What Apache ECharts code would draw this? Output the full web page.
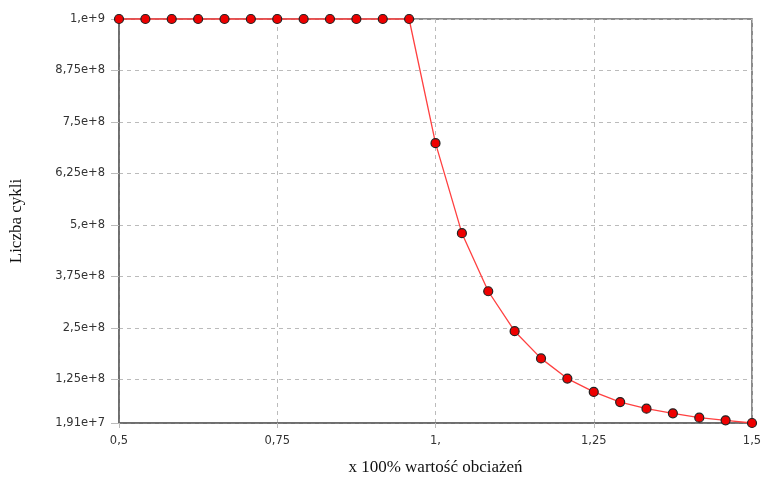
<!DOCTYPE html>
<html><head><meta charset="utf-8">
<script src="https://cdn.jsdelivr.net/npm/echarts@6/dist/echarts.min.js"></script>
<style>html,body{margin:0;padding:0;background:#fff}#c{width:764px;height:478px}</style>
</head><body><div id="c"></div>
<script>
const xValues = [0.5, 0.5417, 0.5833, 0.625, 0.6667, 0.7083, 0.75, 0.7917, 0.8333, 0.875, 0.9167, 0.9583,
  1.0, 1.0417, 1.0833, 1.125, 1.1667, 1.2083, 1.25, 1.2917, 1.3333, 1.375, 1.4167, 1.4583, 1.5];
const cycles = [1e9, 1e9, 1e9, 1e9, 1e9, 1e9, 1e9, 1e9, 1e9, 1e9, 1e9, 1e9,
  6.985e8, 4.8e8, 3.39e8, 2.42e8, 1.76e8, 1.27e8, 9.45e7, 7.0e7, 5.4e7, 4.27e7, 3.2e7, 2.57e7, 1.91e7];
const xTicks = [0.5, 0.75, 1, 1.25, 1.5];
const xTickLabels = ['0,5', '0,75', '1,', '1,25', '1,5'];
const yTicks = [1.91e7, 1.25e8, 2.5e8, 3.75e8, 5e8, 6.25e8, 7.5e8, 8.75e8, 1e9];
const yTickLabels = ['1,91e+7', '1,25e+8', '2,5e+8', '3,75e+8', '5,e+8', '6,25e+8', '7,5e+8', '8,75e+8', '1,e+9'];

function labelFor(vals, labels, v) {
  for (let i = 0; i < vals.length; i++) if (Math.abs(vals[i] - v) <= Math.abs(vals[i]) * 1e-6 + 1e-9) return labels[i];
  return '';
}
const chart = echarts.init(document.getElementById('c'), null, {renderer: 'canvas'});
const lblFont = {fontFamily: 'DejaVu Sans', fontSize: 11.5, color: '#333'};
chart.setOption({
  animation: false,
  backgroundColor: '#fff',
  grid: {left: 119, top: 19, width: 633, height: 404, show: true, borderColor: '#666', borderWidth: 1.5, backgroundColor: '#fff',
    containLabel: false, outerBoundsMode: 'none'},
  xAxis: {
    type: 'value', min: 0.5, max: 1.5,
    name: 'x 100% wartość obciażeń', nameLocation: 'middle', nameGap: 36,
    nameTextStyle: {fontFamily: 'Liberation Serif', fontSize: 17, color: '#111'},
    axisLine: {show: true, lineStyle: {color: '#666', width: 1.5}},
    axisTick: {show: true, length: 5, customValues: xTicks, lineStyle: {color: '#bbb'}},
    axisLabel: Object.assign({customValues: xTicks, margin: 12, formatter: v => labelFor(xTicks, xTickLabels, v)}, lblFont),
    splitLine: {show: true, lineStyle: {type: [4, 4], color: '#bbb', width: 1}}
  },
  yAxis: {
    type: 'value', min: 1.91e7, max: 1e9,
    name: 'Liczba cykli', nameLocation: 'middle', nameGap: 94,
    nameTextStyle: {fontFamily: 'Liberation Serif', fontSize: 17, color: '#111'},
    axisLine: {show: true, lineStyle: {color: '#666', width: 1.5}},
    axisTick: {show: true, length: 8, customValues: yTicks, lineStyle: {color: '#bbb'}},
    axisLabel: Object.assign({customValues: yTicks, margin: 14, formatter: v => labelFor(yTicks, yTickLabels, v)}, lblFont),
    splitLine: {show: true, lineStyle: {type: [4, 4], color: '#bbb', width: 1}}
  },
  series: [{
    type: 'line',
    data: xValues.map((x, i) => [x, cycles[i]]),
    symbol: 'circle', symbolSize: 9,
    lineStyle: {color: '#ff4040', width: 1.3},
    itemStyle: {color: '#ee0000', borderColor: '#222', borderWidth: 1.2},
    clip: false
  }]
});
</script></body></html>
